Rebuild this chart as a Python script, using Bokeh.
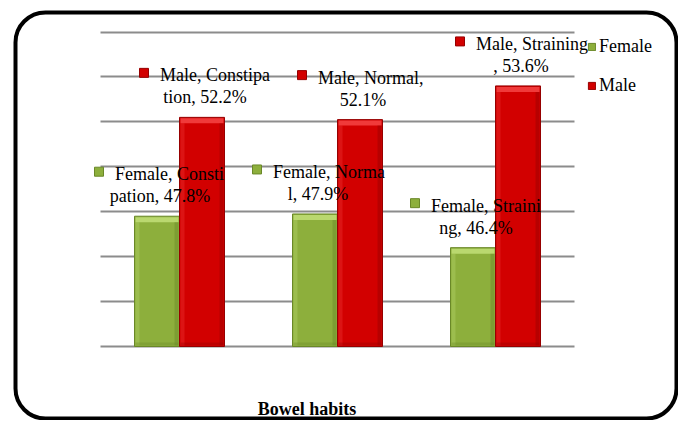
from bokeh.plotting import figure
from bokeh.models import (ColumnDataSource, Range1d, Grid, FixedTicker, BoxAnnotation,
                          Label, Legend, LegendItem)
from bokeh.core.properties import value
from bokeh.embed import file_html
from bokeh.resources import INLINE

# ---------------- data ----------------
categories = ["Constipation", "Normal", "Straining"]
series = ["Female", "Male"]
female = [47.8, 47.9, 46.4]
male = [52.2, 52.1, 53.6]
label_breaks = [14, 13, 15]          # where the data labels wrap (characters)
y_ticks = [42, 44, 46, 48, 50, 52, 54, 56]
axis_title = "Bowel habits"

# ---------------- layout constants ----------------
W, H = 678, 420
PX0, PX_PER = 100.0, 158.0           # canvas px of plot-area left, px per category
PY_BASE, PY_PER = 346.0, 22.464      # canvas px of the baseline, px per unit
Y0, Y1 = y_ticks[0], y_ticks[-1]
PXX = 1.0 / PX_PER                   # one pixel in x data units
PXY = 1.0 / PY_PER                   # one pixel in y data units


def cx(px):
    return (px - PX0) / PX_PER


def cy(py):
    return Y0 + (PY_BASE - py) / PY_PER


FONT = "Liberation Serif"
colors = {"Female": ("#8daf3c", "#bad86f", "#6a8828"),
          "Male": ("#d20000", "#f03a3a", "#960000")}

p = figure(width=W, height=H,
           x_range=Range1d(cx(0), cx(W)), y_range=Range1d(cy(H), cy(0)),
           x_axis_type=None, y_axis_type=None, toolbar_location=None,
           output_backend="svg", min_border=0, outline_line_color=None,
           background_fill_color="white", border_fill_color="white")

grid = Grid(dimension=1, ticker=FixedTicker(ticks=y_ticks), bounds=(Y0, Y1),
            cross_bounds=(0, len(categories)),
            grid_line_color="#8c8c8c", grid_line_width=2)
p.add_layout(grid)

bw = 45 * PXX
offsets = {"Female": -bw / 2, "Male": bw / 2}
vals = {"Female": female, "Male": male}

main_renderers = {}
for s in series:
    main, light, dark = colors[s]
    xs = [i + 0.5 + offsets[s] for i in range(len(categories))]
    src = ColumnDataSource(dict(x=xs, top=vals[s], cat=categories))
    r = p.vbar(x="x", top="top", bottom=Y0, width=bw, source=src,
               fill_color=main, line_color=dark, line_width=1)
    main_renderers[s] = r
    # bevel: lighter top strip, shaded right edge, lighter left edge, darker foot
    p.vbar(x=xs, top=[v - 1 * PXY for v in vals[s]], bottom=[v - 6 * PXY for v in vals[s]],
           width=bw - 2 * PXX, fill_color=light, line_color=None)
    p.vbar(x=[x + bw / 2 - 3 * PXX for x in xs], top=[v - 6 * PXY for v in vals[s]],
           bottom=Y0 + 1 * PXY, width=4 * PXX, fill_color=dark, fill_alpha=0.45, line_color=None)
    p.vbar(x=[x - bw / 2 + 3 * PXX for x in xs], top=[v - 6 * PXY for v in vals[s]],
           bottom=Y0 + 1 * PXY, width=4 * PXX, fill_color=light, fill_alpha=0.35, line_color=None)
    p.vbar(x=xs, top=[Y0 + 4 * PXY] * len(xs), bottom=Y0 + 1 * PXY,
           width=bw - 2 * PXX, fill_color=dark, fill_alpha=0.35, line_color=None)

# data labels
for s in series:
    main, light, dark = colors[s]
    xs = [i + 0.5 + offsets[s] for i in range(len(categories))]
    l1, l2 = [], []
    for c, v, k in zip(categories, vals[s], label_breaks):
        full = f"{s}, {c}, {v}%"
        l1.append(full[:k].rstrip())
        l2.append(full[k:].strip())
    src = ColumnDataSource(dict(x=xs, y=vals[s], l1=l1, l2=l2))
    p.text(x="x", y="y", text="l1", source=src, x_offset=-42, y_offset=-42,
           text_align="left", text_baseline="alphabetic",
           text_font=value(FONT), text_font_size="18px", text_color="black")
    p.text(x="x", y="y", text="l2", source=src, x_offset=3, y_offset=-20,
           text_align="center", text_baseline="alphabetic",
           text_font=value(FONT), text_font_size="18px", text_color="black")
    p.scatter(x=[x - 58 * PXX for x in xs], y=[v + 44.5 * PXY for v in vals[s]],
              marker="square", size=9, fill_color=main, line_color=dark, line_width=1)

legend = Legend(items=[LegendItem(label=s, renderers=[main_renderers[s]]) for s in series],
                location=(587, 324.5), orientation="vertical",
                glyph_width=9, glyph_height=9, label_standoff=3, spacing=18,
                padding=0, margin=0, border_line_color=None, background_fill_alpha=0,
                label_text_font=FONT, label_text_font_size="18px", label_height=21,
                label_text_color="black")
p.add_layout(legend)

p.add_layout(Label(x=cx(306.5), y=cy(408), text=axis_title,
                   text_align="center", text_baseline="alphabetic",
                   text_font=FONT, text_font_size="18px", text_font_style="bold",
                   text_color="black"))

p.add_layout(BoxAnnotation(left=cx(15), right=cx(676), top=cy(12), bottom=cy(418),
                           fill_color=None, line_color="black", line_alpha=1.0,
                           line_width=4, border_radius=30))

open("out.html", "w").write(file_html(p, INLINE))
